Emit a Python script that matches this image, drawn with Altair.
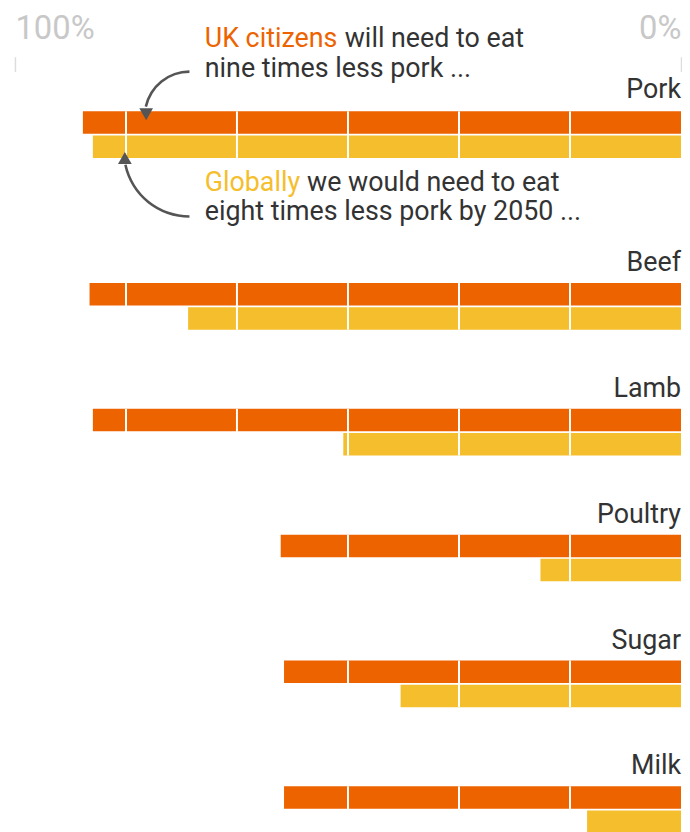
import altair as alt
import pandas as pd

# ---------------- data ----------------
FOODS = ["Pork", "Beef", "Lamb", "Poultry", "Sugar", "Milk"]
UK_CUT = [89.8, 88.8, 88.3, 60.1, 59.6, 59.6]        # % reduction needed, UK citizens
GLOBAL_CUT = [88.3, 74.0, 50.7, 21.1, 42.1, 14.1]    # % reduction needed, globally
SERIES = ["UK", "Global"]
GRID_LINES = [16.67, 33.33, 50, 66.67, 83.33]
AXIS_TICKS = [100, 0]

UK_TEXT = ["UK citizens", "will need to eat", "nine times less pork ..."]
GLOBAL_TEXT = ["Globally", "we would need to eat", "eight times less pork by 2050 ..."]
TEXT_X = 71.5          # annotation left edge, in % units
ARC_X = 73.8           # centre of the curved arrows, in % units
UK_ARROW_X = 80.3
GLOBAL_ARROW_X = 83.5

ORANGE = "#ed6300"
YELLOW = "#f5be2c"
DARK = "#333333"
ARROW = "#555555"
FONT = "Roboto"

rows = []
for f, u, g in zip(FOODS, UK_CUT, GLOBAL_CUT):
    rows.append({"food": f, "series": "UK", "cut": u})
    rows.append({"food": f, "series": "Global", "cut": g})
df = pd.DataFrame(rows)

W = 671
H = 47
xscale = alt.Scale(domain=[100, 0], nice=False)


def xd(v):
    return alt.XDatum(v, scale=xscale, axis=None)


def panel(food, top):
    base = alt.Chart(df).transform_filter(alt.datum.food == food)
    if top:
        xaxis = alt.Axis(
            orient="top", values=AXIS_TICKS, labelExpr="datum.value + '%'",
            labelFlush=True, domain=False, grid=False, ticks=True, tickSize=15,
            tickColor="#dddddd", tickWidth=1.5, labelFontSize=33,
            labelColor="#c8c8c8", labelFont=FONT, labelPadding=11, offset=40,
            title=None,
        )
        xenc = alt.X("cut:Q", scale=xscale, axis=xaxis)
    else:
        xenc = alt.X("cut:Q", scale=xscale, axis=None)

    bars = base.mark_bar().encode(
        x=xenc,
        y=alt.Y("series:N", sort=SERIES,
                scale=alt.Scale(domain=SERIES, paddingInner=0.07, paddingOuter=0),
                axis=None),
        color=alt.Color("series:N", scale=alt.Scale(domain=SERIES, range=[ORANGE, YELLOW]),
                        legend=None),
    )
    grid = alt.Chart(pd.DataFrame({"g": GRID_LINES})).mark_rule(
        color="white", strokeWidth=2
    ).encode(x=alt.X("g:Q", scale=xscale, axis=None))
    label = alt.Chart(pd.DataFrame({"food": [food]})).mark_text(
        align="right", baseline="alphabetic", font=FONT, fontSize=27, color=DARK
    ).encode(x=xd(0), y=alt.value(-13 if top else -12), text="food:N")

    layers = [bars, grid, label]

    if top:
        one = pd.DataFrame({"k": [0]})

        def txt(s, y, color, dx=0):
            return alt.Chart(one).mark_text(
                align="left", baseline="alphabetic", font=FONT, fontSize=27,
                color=color, dx=dx
            ).encode(x=xd(TEXT_X), y=alt.value(y), text=alt.value(s))

        layers += [
            txt(UK_TEXT[0], -65, ORANGE),
            txt(UK_TEXT[1], -65, DARK, dx=141),
            txt(UK_TEXT[2], -35, DARK),
            txt(GLOBAL_TEXT[0], 80, YELLOW),
            txt(GLOBAL_TEXT[1], 80, DARK, dx=103),
            txt(GLOBAL_TEXT[2], 110, DARK),
        ]
        uk_arc = alt.Chart(one).mark_arc(
            radius=46.3, radius2=43.7, theta=4.93, theta2=6.283, color=ARROW
        ).encode(x=xd(ARC_X), y=alt.value(5))
        gl_arc = alt.Chart(one).mark_arc(
            radius=67.3, radius2=64.7, theta=3.1416, theta2=4.50, color=ARROW
        ).encode(x=xd(ARC_X), y=alt.value(40))
        uk_head = alt.Chart(one).mark_point(
            shape="triangle-down", filled=True, size=190, color=ARROW, opacity=1
        ).encode(x=xd(UK_ARROW_X), y=alt.value(3))
        gl_head = alt.Chart(one).mark_point(
            shape="triangle-up", filled=True, size=190, color=ARROW, opacity=1
        ).encode(x=xd(GLOBAL_ARROW_X), y=alt.value(47))
        layers += [uk_arc, gl_arc, uk_head, gl_head]

    return alt.layer(*layers).resolve_axis(x="independent").properties(width=W, height=H)


top_panel = panel(FOODS[0], True)
rest = alt.vconcat(*[panel(f, False) for f in FOODS[1:]], spacing=79.75, bounds="flush")
chart = (
    alt.vconcat(top_panel, rest, spacing=126, bounds="flush")
    .properties(padding={"left": 6, "top": 2, "right": 0, "bottom": 0})
    .configure_view(strokeWidth=0)
)
chart.save("out.html", embed_options={"renderer": "svg", "actions": False})
